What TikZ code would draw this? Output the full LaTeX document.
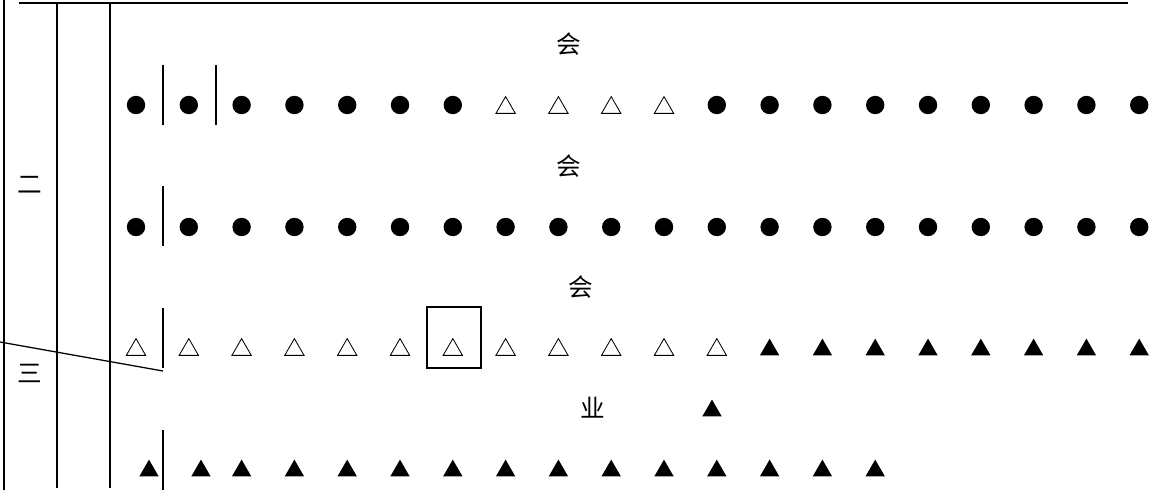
\documentclass[tikz,border=0pt]{standalone}
\usepackage{fontspec}
\newfontfamily\cjk{Noto Sans CJK SC}
\usetikzlibrary{shapes.geometric}
\tikzset{
  symd/.style={circle,fill,inner sep=0pt,minimum size=0.46cm},
  symo/.style={regular polygon,regular polygon sides=3,draw,line width=0.6pt,inner sep=0pt,minimum size=0.56cm,yshift=-0.07cm},
  symf/.style={regular polygon,regular polygon sides=3,fill,inner sep=0pt,minimum size=0.56cm,yshift=-0.07cm},
  hanzi/.style={font=\cjk\fontsize{17.5}{19}\selectfont,inner sep=0pt}
}
\begin{document}
\begin{tikzpicture}[x=0.025cm,y=-0.025cm,line width=0.9pt]
\useasboundingbox (0,0) rectangle (1161,495);
% frame
\draw (19,3) -- (1128,3);
\draw (4,0) -- (4,490);
\draw (57,3) -- (57,488);
\draw (110,3) -- (110,488);
\node[hanzi] (two) at (30,185) {二};
\node[hanzi] (three) at (30,373) {三};
% row 1
\node[hanzi] (h1) at (569,44) {会};
\foreach \s [count=\i from 0] in {d,d,d,d,d,d,d,o,o,o,o,d,d,d,d,d,d,d,d,d}
  \node[sym\s] (a\i) at ({136+52.8*\i},105) {};
\draw (163,65) -- (163,125);
\draw (216,65) -- (216,125);
% row 2
\node[hanzi] (h2) at (569,166) {会};
\foreach \i in {0,...,19}
  \node[symd] (b\i) at ({136+52.8*\i},227) {};
\draw (163,186) -- (163,246);
% row 3
\node[hanzi] (h3) at (581,287) {会};
\foreach \s [count=\i from 0] in {o,o,o,o,o,o,o,o,o,o,o,o,f,f,f,f,f,f,f,f}
  \node[sym\s] (c\i) at ({136+52.8*\i},347) {};
\draw (163,308) -- (163,368);
\draw (427,307) rectangle (481,368);
\draw (0,342) -- (163,371);
% row 4
\node[hanzi] (ye) at (593,408) {业};
\node[symf] (d0) at (712,408) {};
% row 5
\node[symf] (e0) at (149,468) {};
\node[symf] (e1) at (201,468) {};
\foreach \i in {2,...,14}
  \node[symf] (e\i) at ({136+52.8*\i},468) {};
\draw (163,430) -- (163,490);
\end{tikzpicture}
\end{document}
